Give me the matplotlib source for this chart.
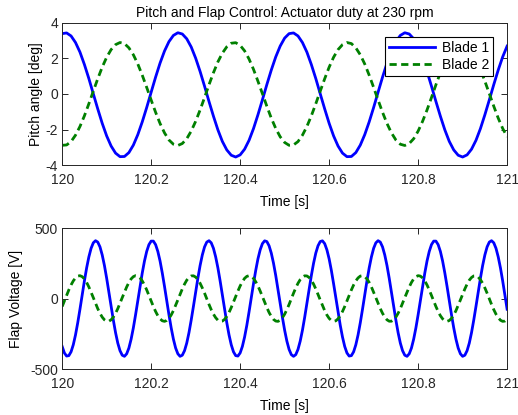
import numpy as np
import matplotlib
matplotlib.use('Agg')
import matplotlib.pyplot as plt

plt.rcParams['font.family'] = ['Liberation Sans', 'DejaVu Sans']
plt.rcParams['font.size'] = 10
plt.rcParams['axes.unicode_minus'] = False

# sample times: pitch at 10 ms, flap at 5 ms
time_pitch = np.linspace(120, 121, 101)
time_flap = np.linspace(120, 121, 201)

# pitch angle [deg]
blade1_pitch = [3.40, 3.44, 3.27, 2.90, 2.36, 1.66, 0.87, 0.01, -0.84, -1.65,
                -2.36, -2.93, -3.33, -3.53, -3.52, -3.30, -2.88, -2.29, -1.57, -0.76,
                0.10, 0.95, 1.74, 2.42, 2.95, 3.30, 3.45, 3.38, 3.11, 2.65,
                2.02, 1.27, 0.44, -0.42, -1.25, -2.02, -2.67, -3.15, -3.45, -3.55,
                -3.43, -3.11, -2.61, -1.95, -1.17, -0.33, 0.53, 1.35, 2.09, 2.70,
                3.15, 3.40, 3.44, 3.27, 2.90, 2.36, 1.66, 0.87, 0.01, -0.84,
                -1.65, -2.36, -2.93, -3.33, -3.53, -3.52, -3.30, -2.88, -2.29, -1.57,
                -0.76, 0.10, 0.95, 1.74, 2.42, 2.95, 3.30, 3.45, 3.38, 3.11,
                2.65, 2.02, 1.27, 0.44, -0.42, -1.25, -2.02, -2.67, -3.15, -3.45,
                -3.55, -3.43, -3.11, -2.61, -1.95, -1.17, -0.33, 0.53, 1.35, 2.09,
                2.70]
blade2_pitch = [-2.89, -2.87, -2.68, -2.32, -1.83, -1.23, -0.55, 0.16, 0.86, 1.51,
                2.07, 2.50, 2.78, 2.90, 2.84, 2.60, 2.21, 1.69, 1.06, 0.37,
                -0.34, -1.03, -1.66, -2.19, -2.59, -2.83, -2.90, -2.79, -2.52, -2.09,
                -1.54, -0.90, -0.20, 0.52, 1.20, 1.81, 2.30, 2.66, 2.86, 2.89,
                2.74, 2.43, 1.97, 1.39, 0.72, 0.02, -0.69, -1.36, -1.94, -2.41,
                -2.73, -2.89, -2.87, -2.68, -2.32, -1.83, -1.23, -0.55, 0.16, 0.86,
                1.51, 2.07, 2.50, 2.78, 2.90, 2.84, 2.60, 2.21, 1.69, 1.06,
                0.37, -0.34, -1.03, -1.66, -2.19, -2.59, -2.83, -2.90, -2.79, -2.52,
                -2.09, -1.54, -0.90, -0.20, 0.52, 1.20, 1.81, 2.30, 2.66, 2.86,
                2.89, 2.74, 2.43, 1.97, 1.39, 0.72, 0.02, -0.69, -1.36, -1.94,
                -2.41]

# flap voltage [V]
blade1_flap = [-340, -386, -408, -405, -378, -328, -258, -172, -76, 25,
               125, 217, 295, 356, 395, 410, 400, 366, 309, 234,
               144, 46, -56, -153, -242, -316, -370, -402, -410, -392,
               -351, -288, -208, -115, -15, 86, 181, 266, 334, 382,
               407, 407, 382, 334, 266, 181, 86, -15, -115, -208,
               -288, -351, -392, -410, -402, -370, -316, -242, -153, -56,
               46, 144, 234, 309, 366, 400, 410, 395, 356, 295,
               217, 125, 25, -76, -172, -258, -328, -378, -405, -408,
               -386, -340, -273, -190, -95, 5, 105, 199, 281, 345,
               389, 409, 404, 374, 322, 250, 163, 66, -35, -134,
               -225, -302, -361, -398, -410, -398, -361, -302, -225, -134,
               -35, 66, 163, 250, 322, 374, 404, 409, 389, 345,
               281, 199, 105, 5, -95, -190, -273, -340, -386, -408,
               -405, -378, -328, -258, -172, -76, 25, 125, 217, 295,
               356, 395, 410, 400, 366, 309, 234, 144, 46, -56,
               -153, -242, -316, -370, -402, -410, -392, -351, -288, -208,
               -115, -15, 86, 181, 266, 334, 382, 407, 407, 382,
               334, 266, 181, 86, -15, -115, -208, -288, -351, -392,
               -410, -402, -370, -316, -242, -153, -56, 46, 144, 234,
               309, 366, 400, 410, 395, 356, 295, 217, 125, 25,
               -76]
blade2_flap = [-57, -18, 22, 61, 96, 125, 146, 159, 162, 155,
               139, 114, 82, 45, 6, -34, -72, -105, -132, -151,
               -161, -161, -151, -132, -105, -72, -34, 6, 45, 82,
               114, 139, 155, 162, 159, 146, 125, 96, 61, 22,
               -18, -57, -92, -122, -144, -158, -162, -156, -141, -117,
               -86, -49, -10, 30, 68, 102, 130, 149, 160, 161,
               152, 134, 108, 75, 38, -2, -42, -79, -111, -136,
               -154, -162, -160, -148, -127, -99, -64, -26, 14, 53,
               89, 119, 143, 157, 162, 157, 143, 119, 89, 53,
               14, -26, -64, -99, -127, -148, -160, -162, -154, -136,
               -111, -79, -42, -2, 38, 75, 108, 134, 152, 161,
               160, 149, 130, 102, 68, 30, -10, -49, -86, -117,
               -141, -156, -162, -158, -144, -122, -92, -57, -18, 22,
               61, 96, 125, 146, 159, 162, 155, 139, 114, 82,
               45, 6, -34, -72, -105, -132, -151, -161, -161, -151,
               -132, -105, -72, -34, 6, 45, 82, 114, 139, 155,
               162, 159, 146, 125, 96, 61, 22, -18, -57, -92,
               -122, -144, -158, -162, -156, -141, -117, -86, -49, -10,
               30, 68, 102, 130, 149, 160, 161, 152, 134, 108,
               75, 38, -2, -42, -79, -111, -136, -154, -162, -160,
               -148]

xticks = [120, 120.2, 120.4, 120.6, 120.8, 121]
xtick_labels = ['120', '120.2', '120.4', '120.6', '120.8', '121']

fig = plt.figure(figsize=(5.18, 4.15), dpi=100)
ax1 = fig.add_axes([0.120, 0.6024, 0.859, 0.3422])
ax2 = fig.add_axes([0.120, 0.1108, 0.859, 0.3398])

ax1.plot(time_pitch, blade1_pitch, color='#0000ff', lw=2, label='Blade 1')
ax1.plot(time_pitch, blade2_pitch, color='#008000', lw=2, ls=(0, (2.6, 1.6)), label='Blade 2')
ax1.set_ylim(-4, 4)
ax1.set_yticks([-4, -2, 0, 2, 4])
ax1.set_ylabel('Pitch angle [deg]', labelpad=2)
ax1.set_title('Pitch and Flap Control: Actuator duty at 230 rpm', fontsize=10, pad=4)
leg = ax1.legend(loc='upper right', fontsize=10, handlelength=3.3, fancybox=False,
                 framealpha=1, edgecolor='black', borderaxespad=1.0,
                 borderpad=0.3, labelspacing=0.2, handletextpad=0.5)
leg.get_frame().set_linewidth(0.8)

ax2.plot(time_flap, blade1_flap, color='#0000ff', lw=2)
ax2.plot(time_flap, blade2_flap, color='#008000', lw=2, ls=(0, (2.6, 1.6)))
ax2.set_ylim(-500, 500)
ax2.set_yticks([-500, 0, 500])
ax2.set_ylabel('Flap Voltage [V]', labelpad=5)

for ax in (ax1, ax2):
    ax.set_xlim(120, 121)
    ax.set_xticks(xticks)
    ax.set_xticklabels(xtick_labels)
    ax.set_xlabel('Time [s]', labelpad=6)
    ax.tick_params(direction='in', length=4, width=0.7, top=True, right=True,
                   colors='#262626', labelsize=10)
    ax.tick_params(axis='x', pad=5.5)
    ax.tick_params(axis='y', pad=3)
    for s in ax.spines.values():
        s.set_color('#262626')
        s.set_linewidth(0.7)

fig.savefig('out.png', dpi=100)
plt.close()
